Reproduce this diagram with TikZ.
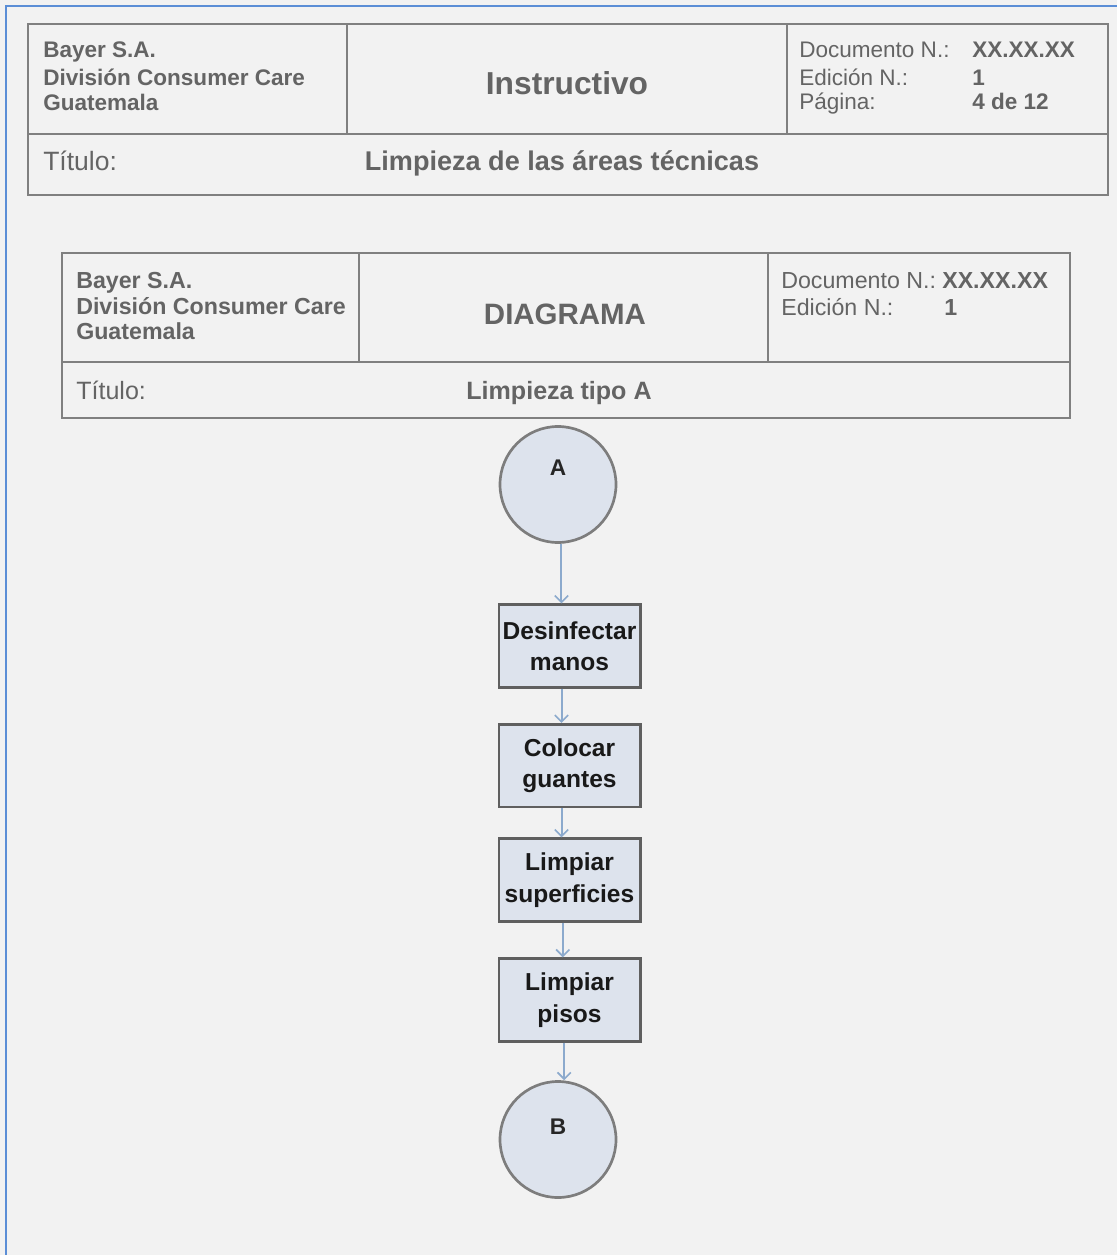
\documentclass[tikz,border=0pt]{standalone}
\usepackage{fontspec}
\setmainfont{Liberation Sans}
\usetikzlibrary{arrows.meta}
\definecolor{bgc}{RGB}{242,242,242}
\definecolor{framec}{RGB}{91,142,214}
\definecolor{hdc}{RGB}{100,100,100}
\definecolor{tabc}{RGB}{128,128,128}
\definecolor{boxfill}{RGB}{221,227,237}
\definecolor{boxline}{RGB}{95,95,95}
\definecolor{circline}{RGB}{125,125,125}
\definecolor{arrc}{RGB}{140,170,205}
\begin{document}
\begin{tikzpicture}[x=0.75pt,y=-0.75pt,
  tab/.style={draw=tabc,line width=1.5pt},
  hd/.style={anchor=base west,inner sep=0pt,text=hdc,font=\fontsize{16.9pt}{20pt}\selectfont},
  hdb/.style={hd,font=\fontsize{16.9pt}{20pt}\selectfont\bfseries},
  hdtwo/.style={hd,font=\fontsize{17.4pt}{20pt}\selectfont},
  hdtwob/.style={hd,font=\fontsize{17.4pt}{20pt}\selectfont\bfseries},
  stepbox/.style={draw=boxline,fill=boxfill,line width=2pt,minimum width=106pt,minimum height=62pt,
     inner sep=0pt,align=center,text=black!90,font=\fontsize{18.4pt}{23.5pt}\selectfont\bfseries},
  conn/.style={draw=circline,fill=boxfill,circle,line width=2pt,minimum size=87pt,inner sep=0pt},
  lbl/.style={inner sep=0pt,text=black!85,font=\fontsize{17pt}{20pt}\selectfont\bfseries},
  arr/.style={draw=arrc,line width=1.5pt,-{Straight Barb[length=5pt,width=10pt,line width=1.2pt]}}
]
\fill[bgc] (0,0) rectangle (1117,1255);
\useasboundingbox (0,0) rectangle (1117,1255);
\draw[framec,line width=1.6pt] (6,1255) -- (6,6) -- (1117,6);

% ---- Table 1 ----
\draw[tab] (28,24) rectangle (1108,195);
\draw[tab] (28,134) -- (1108,134);
\draw[tab] (347,24) -- (347,134);
\draw[tab] (787,24) -- (787,134);
\node[hdb] (t1a) at (43,58) {Bayer S.A.};
\node[hdb] (t1b) at (43,86) {División Consumer Care};
\node[hdb] (t1c) at (43,111) {Guatemala};
\node[inner sep=0pt,text=hdc,font=\fontsize{23.8pt}{26pt}\selectfont\bfseries] (t1t) at (567,83) {Instructivo};
\node[hd] (t1d) at (799,58) {Documento N.:};
\node[hd] (t1e) at (799,86) {Edición N.:};
\node[hd] (t1f) at (799,110) {Página:};
\node[hdb] (t1g) at (972,58) {XX.XX.XX};
\node[hdb] (t1h) at (972,86) {1};
\node[hdb] (t1i) at (972,110) {4 de 12};
\node[hd,font=\fontsize{19.9pt}{22pt}\selectfont] (t1j) at (43,171) {Título:};
\node[anchor=base,inner sep=0pt,text=hdc,font=\fontsize{20.3pt}{22pt}\selectfont\bfseries] (t1k) at (562,171) {Limpieza de las áreas técnicas};

% ---- Table 2 ----
\draw[tab] (62,253) rectangle (1070,418);
\draw[tab] (62,362) -- (1070,362);
\draw[tab] (359,253) -- (359,362);
\draw[tab] (768,253) -- (768,362);
\node[hdtwob] (t2a) at (76,288) {Bayer S.A.};
\node[hdtwob] (t2b) at (76,314) {División Consumer Care};
\node[hdtwob] (t2c) at (76,339) {Guatemala};
\node[inner sep=0pt,text=hdc,font=\fontsize{22.1pt}{24pt}\selectfont\bfseries] (t2t) at (565,314) {DIAGRAMA};
\node[hdtwo] (t2d) at (781,288) {Documento N.:};
\node[hdtwob] (t2e) at (942,288) {XX.XX.XX};
\node[hdtwo] (t2f) at (781,315) {Edición N.:};
\node[hdtwob] (t2g) at (944,315) {1};
\node[hd,font=\fontsize{18.8pt}{22pt}\selectfont] (t2h) at (76,399) {Título:};
\node[anchor=base,inner sep=0pt,text=hdc,font=\fontsize{18.8pt}{22pt}\selectfont\bfseries] (t2i) at (559,399) {Limpieza tipo A};

% ---- Flow ----
\node[conn,label={[lbl,name=Alab,yshift=12.4pt]center:A}] (A) at (558,484.5) {};
\node[stepbox] (d1) at (569.5,646) {Desinfectar\\manos};
\node[stepbox] (d2) at (569.5,765.5) {Colocar\\guantes};
\node[stepbox] (d3) at (569.5,880) {Limpiar\\superficies};
\node[stepbox] (d4) at (569.5,1000) {Limpiar\\pisos};
\node[conn,label={[lbl,name=Blab,yshift=9.4pt]center:B}] (B) at (558,1139.5) {};

\draw[arr] ([xshift=2.6pt]A.south) -- ([xshift=2.6pt]A.south |- d1.north);
\draw[arr] ([xshift=-6pt]d1.south) -- ([xshift=-6pt]d1.south |- d2.north);
\draw[arr] ([xshift=-6pt]d2.south) -- ([xshift=-6pt]d2.south |- d3.north);
\draw[arr] ([xshift=-5pt]d3.south) -- ([xshift=-5pt]d3.south |- d4.north);
\draw[arr] ([xshift=-4pt]d4.south) -- ([xshift=-4pt]d4.south |- B.north);
\end{tikzpicture}
\end{document}
